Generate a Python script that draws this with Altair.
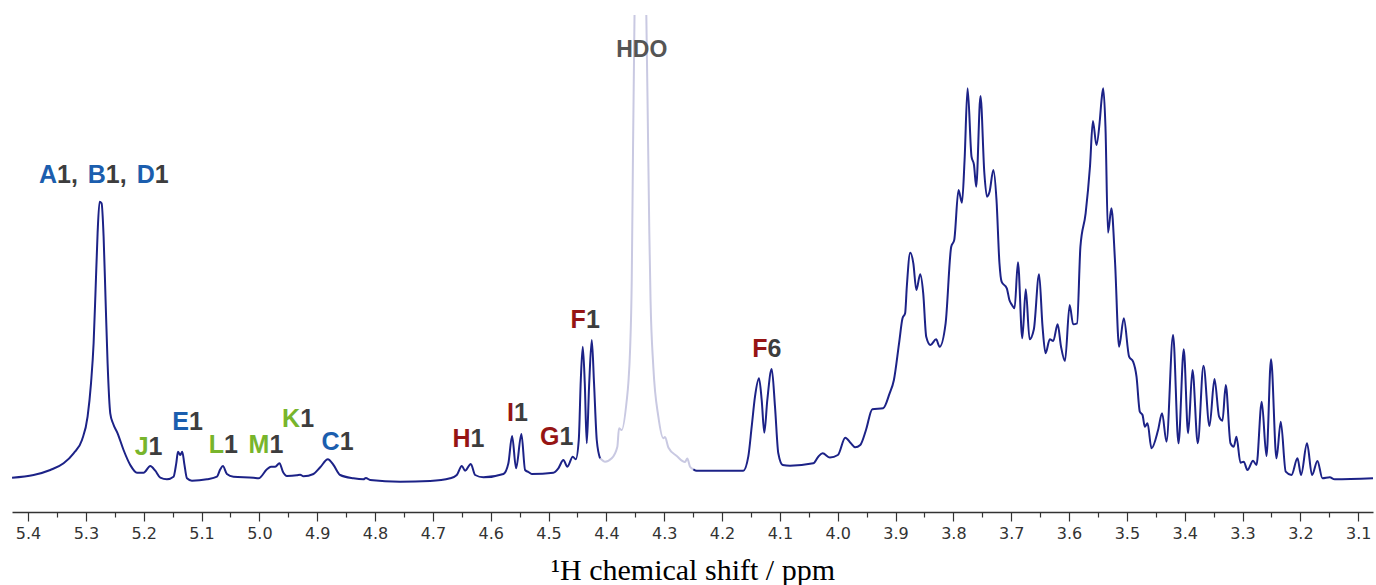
import altair as alt
import pandas as pd

# ---- spectrum trace (ppm, intensity a.u.) ----
# dark trace 5.43 -> 4.41 ppm
ppm_a = [5.4276, 5.3903, 5.3615, 5.3385, 5.3212, 5.3067, 5.2970, 5.2911, 5.2866, 5.2832,
         5.2797, 5.2763, 5.2728, 5.2693, 5.2659, 5.2624, 5.2578, 5.2531, 5.2451, 5.2348,
         5.2232, 5.2116, 5.2002, 5.1886, 5.1800, 5.1713, 5.1598, 5.1484, 5.1437, 5.1407,
         5.1368, 5.1333, 5.1299, 5.1252, 5.1166, 5.0906, 5.0733, 5.0676, 5.0630, 5.0561,
         5.0447, 5.0101, 5.0014, 4.9869, 4.9800, 4.9726, 4.9652, 4.9593, 4.9524, 4.9351,
         4.9294, 4.9237, 4.9064, 4.8948, 4.8815, 4.8718, 4.8603, 4.8373, 4.8200, 4.8158,
         4.8084, 4.7566, 4.7047, 4.6701, 4.6586, 4.6499, 4.6442, 4.6344, 4.6269, 4.6126,
         4.5780, 4.5694, 4.5630, 4.5561, 4.5469, 4.5405, 4.5348, 4.5289, 4.4916, 4.4830,
         4.4743, 4.4674, 4.4581, 4.4529, 4.4477, 4.4442, 4.4408, 4.4373, 4.4339, 4.4299,
         4.4252, 4.4213, 4.4166, 4.4109]
int_a = [12.3, 15, 20, 26.7, 36.7, 50, 73.3, 106.7, 146.7, 200,
         256.7, 288.3, 286.7, 253.3, 190, 126.7, 76.7, 66.7, 56.7, 40,
         25, 17.3, 17.3, 24, 19.3, 12.3, 10.7, 13.3, 26.7, 38.3,
         35, 38.3, 26.7, 11.7, 9.3, 10.7, 13.3, 20.7, 24, 16,
         13.3, 12.3, 11.7, 20.7, 23.3, 23.3, 26.7, 18.3, 14, 14.7,
         15.3, 13.7, 16, 22.7, 30.7, 25, 15, 11.7, 10.7, 12,
         10, 8.3, 9, 11.7, 15, 24, 19.3, 26, 15, 12.7,
         16, 26.7, 54, 21.7, 56, 20, 18, 16, 17.3, 21.7,
         30, 23.3, 33.3, 30.7, 50, 110, 143.3, 106.7, 46.7, 103.3,
         150, 106.7, 50, 31.7]

# HDO residual water signal (drawn pale, runs off the top)
ppm_hdo = [4.4109, 4.4022, 4.3907, 4.3810, 4.3781, 4.3734, 4.3647, 4.3620, 4.3590, 4.3561,
           4.3539, 4.3513, 4.3461, 4.3409, 4.3357, 4.3309, 4.3288, 4.3257, 4.3236, 4.3188,
           4.3101, 4.3015, 4.2986, 4.2928, 4.2783, 4.2640, 4.2600, 4.2553, 4.2496]
int_hdo = [31.7, 28.3, 31.7, 43.3, 61.7, 60, 90, 106.7, 140, 210,
           340, 475, 690, 910, 690, 475, 390, 257, 190, 123.3,
           73.3, 51.7, 53, 42.5, 34, 28, 31.5, 23.3, 20.7]

# dark trace 4.25 -> 3.07 ppm
ppm_b = [4.2496, 4.2438, 4.1632, 4.1546, 4.1487, 4.1430, 4.1361, 4.1314, 4.1269, 4.1217,
         4.1141, 4.1084, 4.1027, 4.0951, 4.0825, 4.0422, 4.0336, 4.0260, 4.0134, 3.9997,
         3.9869, 3.9772, 3.9698, 3.9610, 3.9511, 3.9401, 3.9214, 3.9102, 3.9028, 3.8939,
         3.8879, 3.8834, 3.8805, 3.8746, 3.8692, 3.8640, 3.8573, 3.8521, 3.8469, 3.8395,
         3.8298, 3.8238, 3.8134, 3.8037, 3.7985, 3.7911, 3.7851, 3.7806, 3.7754, 3.7686,
         3.7643, 3.7605, 3.7531, 3.7464, 3.7419, 3.7374, 3.7308, 3.7254, 3.7203, 3.7166,
         3.7076, 3.7031, 3.6986, 3.6942, 3.6883, 3.6808, 3.6748, 3.6682, 3.6608, 3.6518,
         3.6458, 3.6406, 3.6332, 3.6273, 3.6197, 3.6138, 3.6070, 3.5989, 3.5929, 3.5861,
         3.5803, 3.5713, 3.5638, 3.5587, 3.5526, 3.5467, 3.5438, 3.5409, 3.5370, 3.5326,
         3.5267, 3.5206, 3.5134, 3.5053, 3.4961, 3.4892, 3.4833, 3.4776, 3.4729, 3.4690,
         3.4643, 3.4574, 3.4460, 3.4391, 3.4315, 3.4201, 3.4107, 3.4016, 3.3941, 3.3865,
         3.3774, 3.3675, 3.3571, 3.3485, 3.3405, 3.3347, 3.3290, 3.3208, 3.3151, 3.3105,
         3.3036, 3.2979, 3.2915, 3.2818, 3.2759, 3.2668, 3.2586, 3.2507, 3.2413, 3.2339,
         3.2253, 3.2154, 3.2050, 3.1988, 3.1885, 3.1798, 3.1705, 3.1618, 3.1492, 3.1406,
         3.0744]
int_b = [20.7, 19.3, 19.3, 33.3, 63.3, 93.3, 111.7, 90, 57.3, 90,
         121, 83.3, 36.7, 25, 24.3, 26.7, 33.3, 36.7, 32.5, 35,
         52.3, 46.7, 42.7, 45, 60, 80.7, 81.7, 96.7, 110, 146.7,
         171.7, 176.7, 203.3, 237.3, 226.7, 200, 215.7, 196.7, 153.3, 145,
         150.7, 143.3, 166.7, 243.3, 250, 300, 287.3, 330, 401.7, 333.3,
         325, 303.3, 394, 316.7, 293.3, 298.3, 320, 290, 226.7, 208.3,
         201.7, 190, 185, 181.7, 227.7, 151.7, 200.7, 150.7, 160.7, 215.7,
         163.3, 136.7, 150.7, 149, 165.7, 143.3, 129, 185, 165.7, 166.7,
         243.3, 276.7, 323.3, 369, 345, 370, 390, 401.7, 363.3, 257.3,
         281.7, 230, 143.3, 171.7, 133.3, 128.3, 113.3, 78.3, 75, 63.3,
         66.7, 41.7, 60, 76.7, 48.3, 155, 46.7, 140.7, 56.7, 120,
         46.7, 124.3, 64, 111, 73.3, 69.3, 105, 46.7, 43.3, 53.3,
         27.3, 28.3, 20, 29.3, 25, 88.3, 34, 130.7, 31.7, 68.3,
         18.3, 15, 31.7, 15, 46.7, 15, 29, 11.7, 12.7, 10.7,
         11.7]

# ---- peak assignments ----
lab_ppm = [5.3499, 5.2655, 5.1809, 5.1916, 5.1217, 5.0611, 4.9826, 4.9294, 4.8611,
           4.6347, 4.5599, 4.4809, 4.4354, 4.1214]
lab_int = [306.7, 306.7, 306.7, 35, 60, 36.7, 36.7, 63.3, 40,
           43.3, 69.3, 45, 161.7, 133.3]
lab_letter = ["A", "B", "D", "J", "E", "L", "M", "K", "C", "H", "I", "G", "F", "F"]
lab_digit = ["1,", "1,", "1", "1", "1", "1", "1", "1", "1", "1", "1", "1", "1", "6"]
lab_group = ["blue", "blue", "blue", "green", "blue", "green", "green", "green", "blue",
             "red", "red", "red", "red", "red"]

hdo_label_ppm = [4.3388]
hdo_label_int = [433.3]
hdo_label_text = ["HDO"]

tick_values = [5.40, 5.35, 5.30, 5.25, 5.20, 5.15, 5.10, 5.05, 5.00, 4.95, 4.90, 4.85,
               4.80, 4.75, 4.70, 4.65, 4.60, 4.55, 4.50, 4.45, 4.40, 4.35, 4.30, 4.25,
               4.20, 4.15, 4.10, 4.05, 4.00, 3.95, 3.90, 3.85, 3.80, 3.75, 3.70, 3.65,
               3.60, 3.55, 3.50, 3.45, 3.40, 3.35, 3.30, 3.25, 3.20, 3.15, 3.10]

NAVY = "#1c2287"
PALE = "#c9c9e2"
group_colors = {"blue": "#1b5eae", "green": "#78b52c", "red": "#961414"}
DIGIT = "#3d3d3d"

df_dark = pd.concat([
    pd.DataFrame({"ppm": ppm_a, "v": int_a, "seg": "a"}),
    pd.DataFrame({"ppm": ppm_b, "v": int_b, "seg": "b"}),
])
df_hdo = pd.DataFrame({"ppm": ppm_hdo, "v": int_hdo})
df_lab = pd.DataFrame({
    "ppm": lab_ppm, "v": lab_int, "letter": lab_letter, "digit": lab_digit,
    "col": [group_colors[g] for g in lab_group],
})
df_hdo_lab = pd.DataFrame({"ppm": hdo_label_ppm, "v": hdo_label_int, "t": hdo_label_text})

xscale = alt.Scale(domain=[3.0744, 5.4277], reverse=True, nice=False, zero=False)
yscale = alt.Scale(domain=[-22, 475], nice=False, zero=False)

xaxis = alt.Axis(
    values=tick_values,
    title="\u00b9H chemical shift / ppm",
    titleFont="Liberation Serif", titleFontSize=30, titleFontWeight="normal",
    titleColor="#000000", titleY=67, titleBaseline="alphabetic",
    labelExpr="abs(round(datum.value*20)) % 2 == 1 ? '' : format(datum.value, '.1f')",
    labelFont="DejaVu Sans", labelFontSize=16, labelColor="#333333",
    labelOverlap=False, labelFlush=False, labelPadding=4,
    tickSize={"condition": {"test": "abs(round(datum.value*20)) % 2 == 1", "value": 5}, "value": 9},
    tickColor="#333333", tickWidth=1.2,
    domainColor="#333333", domainWidth=1.4,
    grid=False,
)

X = alt.X("ppm:Q", scale=xscale, axis=xaxis)
Y = alt.Y("v:Q", scale=yscale, axis=None)

hdo_line = alt.Chart(df_hdo).mark_line(
    color=PALE, strokeWidth=2, interpolate="monotone", clip=True
).encode(x=X, y=Y)

dark_line = alt.Chart(df_dark).mark_line(
    color=NAVY, strokeWidth=2, interpolate="monotone", clip=True
).encode(x=X, y=Y, detail="seg:N")

letters = alt.Chart(df_lab).mark_text(
    align="right", baseline="alphabetic", font="Liberation Sans",
    fontWeight="bold", fontSize=25
).encode(x=X, y=Y, text="letter:N", color=alt.Color("col:N", scale=None))

digits = alt.Chart(df_lab).mark_text(
    align="left", baseline="alphabetic", font="Liberation Sans",
    fontWeight="bold", fontSize=25, color=DIGIT
).encode(x=X, y=Y, text="digit:N")

hdo_text = alt.Chart(df_hdo_lab).mark_text(
    align="center", baseline="alphabetic", font="Liberation Sans",
    fontWeight="bold", fontSize=23, color="#555555"
).encode(x=X, y=Y, text="t:N")

chart = alt.layer(hdo_line, dark_line, letters, digits, hdo_text).properties(
    width=1361, height=497,
    autosize=alt.AutoSizeParams(type="none"),
    padding={"left": 12, "top": 15, "right": 3, "bottom": 73},
    background="white",
).configure_view(stroke=None)

chart.save("out.html", embed_options={"renderer": "svg", "actions": False})
